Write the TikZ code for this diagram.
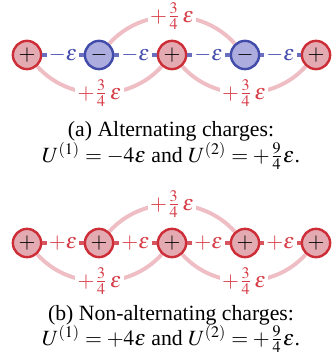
\documentclass[tikz,border=0pt]{standalone}
\usepackage{amsmath}
\usepackage{mathptmx}
\usepackage{fontspec}
\setmainfont{Liberation Serif}
\usepackage{xcolor}
\usepackage{tikz}

\definecolor{posline}{RGB}{205,45,55}
\definecolor{posfill}{RGB}{228,170,178}
\definecolor{negline}{RGB}{65,75,170}
\definecolor{negfill}{RGB}{172,172,222}
\definecolor{bondneg}{RGB}{105,110,190}
\definecolor{bondpos}{RGB}{215,85,95}
\definecolor{arcpink}{RGB}{238,190,196}
\definecolor{lblred}{RGB}{215,60,70}

\tikzset{
  poscharge/.style={circle, draw=posline, fill=posfill, line width=1.1pt, minimum size=13pt, inner sep=0pt},
  negcharge/.style={circle, draw=negline, fill=negfill, line width=1.1pt, minimum size=13pt, inner sep=0pt},
  bondA/.style={bondneg, line width=1.8pt},
  bondB/.style={bondpos, line width=1.9pt},
  nnn/.style={arcpink, line width=1.8pt},
  lbl/.style={fill=white, inner sep=1pt},
  caption/.style={inner sep=0pt},
}

\begin{document}
\begin{tikzpicture}[x=0.46pt,y=-0.46pt]
\useasboundingbox (0,0) rectangle (331,360);

% (a) alternierende Ladungen
\node[poscharge] (a1) at (27,55)  {$+$};
\node[negcharge] (a2) at (99,55)  {$-$};
\node[poscharge] (a3) at (172,55) {$+$};
\node[negcharge] (a4) at (245,55) {$-$};
\node[poscharge] (a5) at (316,55) {$+$};

\draw[nnn] (a1) to[bend right=48] node[lbl, text=lblred] {$+\frac{3}{4}\,\varepsilon$} (a3);
\draw[nnn] (a3) to[bend right=48] node[lbl, text=lblred] {$+\frac{3}{4}\,\varepsilon$} (a5);
\draw[nnn] (a2) to[bend left=48] node[lbl, text=lblred] {$+\frac{3}{4}\,\varepsilon$} (a4);

\draw[bondA] (a1) -- node[lbl, text=negline] {$-\varepsilon$} (a2);
\draw[bondA] (a2) -- node[lbl, text=negline] {$-\varepsilon$} (a3);
\draw[bondA] (a3) -- node[lbl, text=negline] {$-\varepsilon$} (a4);
\draw[bondA] (a4) -- node[lbl, text=negline] {$-\varepsilon$} (a5);

\node[caption] (capa1) at (171,131) {(a) Alternating charges:};
\node[caption] (capa2) at (171,156) {$U^{(1)}=-4\varepsilon$ and $U^{(2)}=+\frac{9}{4}\varepsilon$.};

% (b) gleiche Ladungen
\node[poscharge] (b1) at (27,243)  {$+$};
\node[poscharge] (b2) at (99,243)  {$+$};
\node[poscharge] (b3) at (172,243) {$+$};
\node[poscharge] (b4) at (245,243) {$+$};
\node[poscharge] (b5) at (316,243) {$+$};

\draw[nnn] (b1) to[bend right=48] node[lbl, text=lblred] {$+\frac{3}{4}\,\varepsilon$} (b3);
\draw[nnn] (b3) to[bend right=48] node[lbl, text=lblred] {$+\frac{3}{4}\,\varepsilon$} (b5);
\draw[nnn] (b2) to[bend left=48] node[lbl, text=lblred] {$+\frac{3}{4}\,\varepsilon$} (b4);

\draw[bondB] (b1) -- node[lbl, text=lblred] {$+\varepsilon$} (b2);
\draw[bondB] (b2) -- node[lbl, text=lblred] {$+\varepsilon$} (b3);
\draw[bondB] (b3) -- node[lbl, text=lblred] {$+\varepsilon$} (b4);
\draw[bondB] (b4) -- node[lbl, text=lblred] {$+\varepsilon$} (b5);

\node[caption] (capb1) at (171,315) {(b) Non-alternating charges:};
\node[caption] (capb2) at (171,339) {$U^{(1)}=+4\varepsilon$ and $U^{(2)}=+\frac{9}{4}\varepsilon$.};
\end{tikzpicture}
\end{document}
